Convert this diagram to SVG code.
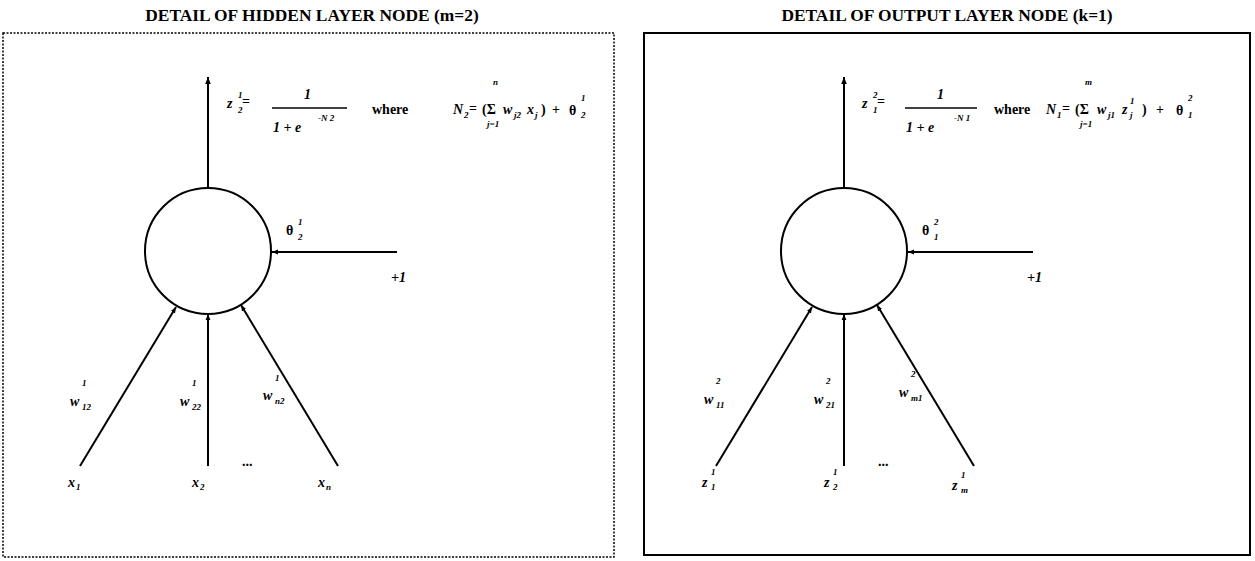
<svg xmlns="http://www.w3.org/2000/svg" width="1255" height="561" viewBox="0 0 1255 561">
<defs>
<style>
.t{font-family:"Liberation Serif",serif;font-weight:bold;font-size:17.4px;text-anchor:middle;fill:#000}
.m{font-family:"Liberation Serif",serif;font-weight:bold;font-style:italic;font-size:14px;fill:#000}
.r{font-family:"Liberation Serif",serif;font-weight:bold;font-size:14px;fill:#000}
.s{font-family:"Liberation Serif",serif;font-weight:bold;font-style:italic;font-size:9px;fill:#000}
.ln{stroke:#000;stroke-width:2;fill:none}
.node{stroke:#000;stroke-width:2;fill:#fff}
</style>
<marker id="ah" viewBox="0 0 10 10" refX="10" refY="5" markerWidth="7" markerHeight="7" markerUnits="userSpaceOnUse" orient="auto">
<path d="M0,1 L10,5 L0,9 z" fill="#000"/>
</marker>
<marker id="ahs" viewBox="0 0 10 10" refX="10" refY="5" markerWidth="6" markerHeight="6" markerUnits="userSpaceOnUse" orient="auto">
<path d="M0,1 L10,5 L0,9 z" fill="#000"/>
</marker>
</defs>
<rect width="1255" height="561" fill="#fff"/>

<g id="titles">
<text class="t" x="312" y="21">DETAIL OF HIDDEN LAYER NODE (m=2)</text>
<text class="t" x="947" y="21">DETAIL OF OUTPUT LAYER NODE (k=1)</text>
</g>

<g id="panels">
<rect id="hidden-panel" x="3" y="33" width="611" height="524" fill="none" stroke="#000" stroke-width="1.5" stroke-dasharray="2 1.5"/>
<rect id="output-panel" x="644" y="33" width="606" height="522" fill="none" stroke="#000" stroke-width="2"/>
</g>

<g id="connectors">
<line class="ln" x1="208" y1="188" x2="208" y2="77" marker-end="url(#ah)"/>
<line class="ln" x1="397" y1="252" x2="272" y2="252" marker-end="url(#ahs)"/>
<line class="ln" x1="80" y1="466" x2="176" y2="307" marker-end="url(#ahs)"/>
<line class="ln" x1="208" y1="466" x2="208" y2="314" marker-end="url(#ahs)"/>
<line class="ln" x1="338" y1="466" x2="241" y2="305" marker-end="url(#ahs)"/>

<line class="ln" x1="844" y1="188" x2="844" y2="77" marker-end="url(#ah)"/>
<line class="ln" x1="1033" y1="252" x2="908" y2="252" marker-end="url(#ahs)"/>
<line class="ln" x1="716" y1="466" x2="812" y2="307" marker-end="url(#ahs)"/>
<line class="ln" x1="844" y1="466" x2="844" y2="314" marker-end="url(#ahs)"/>
<line class="ln" x1="974" y1="466" x2="877" y2="305" marker-end="url(#ahs)"/>
</g>

<g id="hidden-node">
<circle class="node" cx="208" cy="251" r="63"/>
</g>
<g id="output-node">
<circle class="node" cx="844" cy="251" r="63"/>
</g>

<g id="hidden-labels">
<text class="m" x="227" y="108">z</text><text class="s" x="238" y="98">1</text><text class="s" x="238" y="113">2</text><text class="r" x="242" y="106">=</text>
<text class="m" x="304" y="99">1</text>
<line x1="272" y1="108" x2="347" y2="108" stroke="#000" stroke-width="1.5"/>
<text class="m" x="273" y="132">1 + e</text><text class="s" x="318" y="121">-N 2</text>
<text class="r" x="372" y="114">where</text>
<text class="m" x="453" y="114">N</text><text class="s" x="464" y="118">2</text><text class="r" x="469" y="113">=</text>
<text class="r" x="482" y="114">(Σ</text><text class="s" x="493" y="85">n</text><text class="s" x="487" y="127">j=1</text>
<text class="m" x="503" y="114">w</text><text class="s" x="514" y="118">j2</text>
<text class="m" x="527" y="114">x</text><text class="s" x="535" y="118">j</text>
<text class="r" x="541" y="114">)</text><text class="r" x="552" y="114">+</text>
<text class="r" x="569" y="115">θ</text><text class="s" x="581" y="101">1</text><text class="s" x="581" y="118">2</text>

<text class="r" x="286" y="235">θ</text><text class="s" x="298" y="225">1</text><text class="s" x="298" y="240">2</text>
<text class="m" x="391" y="282">+1</text>

<text class="m" x="70" y="406">w</text><text class="s" x="82" y="386">1</text><text class="s" x="82" y="410">12</text>
<text class="m" x="180" y="406">w</text><text class="s" x="192" y="386">1</text><text class="s" x="192" y="410">22</text>
<text class="m" x="263" y="400">w</text><text class="s" x="275" y="381">1</text><text class="s" x="275" y="404">n2</text>

<text class="m" x="68" y="487">x</text><text class="s" x="76" y="490">1</text>
<text class="m" x="192" y="487">x</text><text class="s" x="200" y="490">2</text>
<text class="r" x="242" y="466">...</text>
<text class="m" x="318" y="487">x</text><text class="s" x="326" y="490">n</text>
</g>

<g id="output-labels">
<text class="m" x="862" y="108">z</text><text class="s" x="873" y="98">2</text><text class="s" x="873" y="113">1</text><text class="r" x="877" y="106">=</text>
<text class="m" x="937" y="99">1</text>
<line x1="905" y1="108" x2="977" y2="108" stroke="#000" stroke-width="1.5"/>
<text class="m" x="906" y="132">1 + e</text><text class="s" x="954" y="121">-N 1</text>
<text class="r" x="994" y="114">where</text>
<text class="m" x="1046" y="114">N</text><text class="s" x="1057" y="118">1</text><text class="r" x="1062" y="113">=</text>
<text class="r" x="1075" y="114">(Σ</text><text class="s" x="1085" y="85">m</text><text class="s" x="1080" y="127">j=1</text>
<text class="m" x="1097" y="114">w</text><text class="s" x="1108" y="118">j1</text>
<text class="m" x="1122" y="114">z</text><text class="s" x="1130" y="104">1</text><text class="s" x="1130" y="118">j</text>
<text class="r" x="1142" y="114">)</text><text class="r" x="1156" y="114">+</text>
<text class="r" x="1176" y="115">θ</text><text class="s" x="1188" y="101">2</text><text class="s" x="1188" y="118">1</text>

<text class="r" x="922" y="235">θ</text><text class="s" x="934" y="225">2</text><text class="s" x="934" y="240">1</text>
<text class="m" x="1027" y="282">+1</text>

<text class="m" x="704" y="404">w</text><text class="s" x="716" y="384">2</text><text class="s" x="716" y="408">11</text>
<text class="m" x="814" y="404">w</text><text class="s" x="826" y="384">2</text><text class="s" x="826" y="408">21</text>
<text class="m" x="899" y="397">w</text><text class="s" x="911" y="377">2</text><text class="s" x="911" y="401">m1</text>

<text class="m" x="702" y="487">z</text><text class="s" x="711" y="475">1</text><text class="s" x="711" y="490">1</text>
<text class="m" x="824" y="487">z</text><text class="s" x="833" y="475">1</text><text class="s" x="833" y="490">2</text>
<text class="r" x="878" y="466">...</text>
<text class="m" x="952" y="490">z</text><text class="s" x="961" y="478">1</text><text class="s" x="961" y="493">m</text>
</g>
</svg>
